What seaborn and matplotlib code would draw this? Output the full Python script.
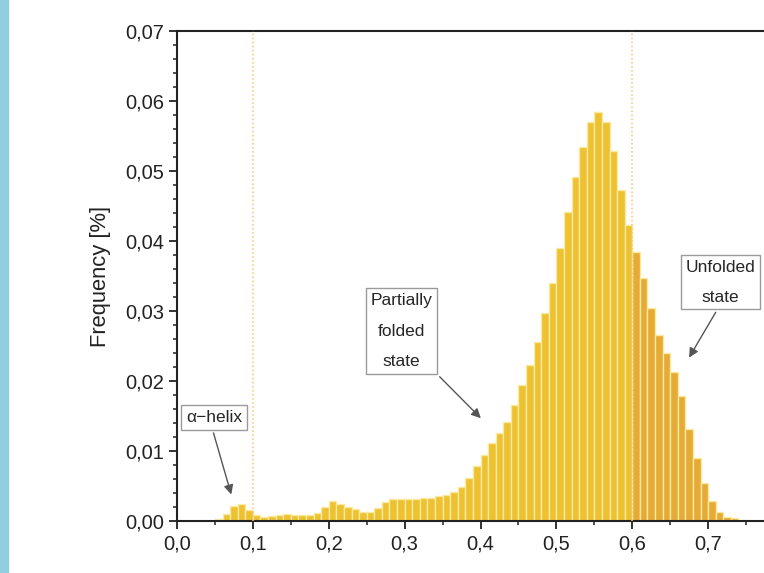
import numpy as np
import pandas as pd
import seaborn as sns
import matplotlib.pyplot as plt
from matplotlib.ticker import FuncFormatter, MultipleLocator
from matplotlib.patches import Rectangle

# bin centres (RMSD, nm) and frequency
rmsd = [0.055, 0.065, 0.075, 0.085, 0.095, 0.105, 0.115, 0.125, 0.135, 0.145,
        0.155, 0.165, 0.175, 0.185, 0.195, 0.205, 0.215, 0.225, 0.235, 0.245,
        0.255, 0.265, 0.275, 0.285, 0.295, 0.305, 0.315, 0.325, 0.335, 0.345,
        0.355, 0.365, 0.375, 0.385, 0.395, 0.405, 0.415, 0.425, 0.435, 0.445,
        0.455, 0.465, 0.475, 0.485, 0.495, 0.505, 0.515, 0.525, 0.535, 0.545,
        0.555, 0.565, 0.575, 0.585, 0.595, 0.605, 0.615, 0.625, 0.635, 0.645,
        0.655, 0.665, 0.675, 0.685, 0.695, 0.705, 0.715, 0.725, 0.735, 0.745]
freq = [0.0003, 0.0010, 0.0021, 0.0024, 0.0016, 0.0009, 0.0006, 0.0007, 0.0009, 0.0010,
        0.0009, 0.0008, 0.0008, 0.0011, 0.0020, 0.0028, 0.0024, 0.0020, 0.0017, 0.0013,
        0.0013, 0.0018, 0.0027, 0.0032, 0.0031, 0.0031, 0.0032, 0.0033, 0.0033, 0.0035,
        0.0037, 0.0042, 0.0049, 0.0061, 0.0078, 0.0094, 0.0111, 0.0125, 0.0142, 0.0166,
        0.0194, 0.0223, 0.0256, 0.0297, 0.0340, 0.0390, 0.0442, 0.0492, 0.0535, 0.0570,
        0.0585, 0.0570, 0.0528, 0.0473, 0.0423, 0.0385, 0.0347, 0.0304, 0.0266, 0.0240,
        0.0213, 0.0178, 0.0132, 0.0090, 0.0054, 0.0028, 0.0013, 0.0006, 0.0004, 0.0002]
x_ticks = [0.0, 0.1, 0.2, 0.3, 0.4, 0.5, 0.6, 0.7]
y_ticks = [0.00, 0.01, 0.02, 0.03, 0.04, 0.05, 0.06, 0.07]
state_lines = [0.1, 0.6]

df = pd.DataFrame({"rmsd": rmsd, "freq": freq})
df["state"] = np.where(df["rmsd"] > 0.6, "unfolded", "folded")

sns.set_style("ticks")
plt.rcParams['font.family'] = ['Liberation Sans', 'DejaVu Sans']

fig = plt.figure(figsize=(7.64, 5.73), dpi=100)
ax = fig.add_axes([0.2317, 0.0908, 0.7945, 0.855])
fig.patches.append(Rectangle((0, 0), 0.011, 1, transform=fig.transFigure,
                             color='#93CDE0', zorder=0))

sns.histplot(data=df, x="rmsd", weights="freq", hue="state",
             binwidth=0.01, binrange=(0.05, 0.76),
             palette={"folded": "#EDC12F", "unfolded": "#E6AA36"},
             alpha=1, edgecolor="#FAE9A0", linewidth=1.0,
             legend=False, ax=ax)

for v in state_lines:
    ax.axvline(v, color="#F3C47C", linestyle=":", linewidth=1.1, zorder=5)

ax.set_xlim(0.0, 0.8)
ax.set_ylim(0.0, 0.07)
ax.set_xticks(x_ticks)
ax.set_yticks(y_ticks)
ax.xaxis.set_minor_locator(MultipleLocator(0.05))
ax.yaxis.set_minor_locator(MultipleLocator(0.002))
ax.xaxis.set_major_formatter(FuncFormatter(lambda v, p: f"{v:.1f}".replace(".", ",")))
ax.yaxis.set_major_formatter(FuncFormatter(lambda v, p: f"{v:.2f}".replace(".", ",")))
ax.tick_params(which="major", length=6, width=1.3, labelsize=14.5, colors="#222222")
ax.tick_params(which="minor", length=3, width=1.1, colors="#222222")
for s in ax.spines.values():
    s.set_linewidth(1.5)
    s.set_color("#222222")
ax.set_xlabel("")
ax.set_ylabel("Frequency [%]", fontsize=15.8, labelpad=10, color="#222222")

box = dict(boxstyle="square,pad=0.28", fc="white", ec="#9A9A9A", lw=1)
arrow = dict(arrowstyle="-|>", color="#555555", lw=1, mutation_scale=14)

ax.annotate("α−helix", xy=(0.0725, 0.0034), xytext=(0.0487, 0.0148),
            ha="center", va="center", fontsize=12.5, bbox=box,
            arrowprops=dict(arrow, relpos=(0.45, 0.0)))
ax.annotate("Partially\nfolded\nstate", xy=(0.403, 0.0144), xytext=(0.2958, 0.0271),
            ha="center", va="center", fontsize=12.5, linespacing=2.3, bbox=box,
            arrowprops=dict(arrow, relpos=(1.0, 0.0)))
ax.annotate("Unfolded\nstate", xy=(0.673, 0.023), xytext=(0.716, 0.0341),
            ha="center", va="center", fontsize=12.5, linespacing=2.2, bbox=box,
            arrowprops=dict(arrow, relpos=(0.5, 0.0)))

plt.savefig("out.png", dpi=100)
